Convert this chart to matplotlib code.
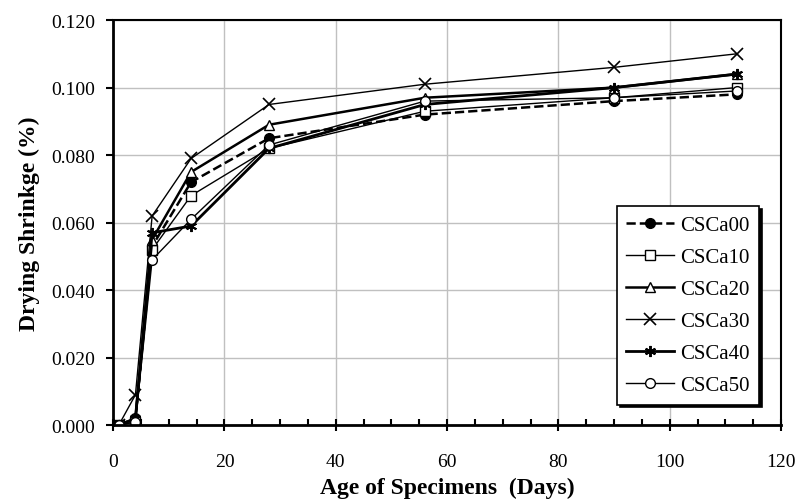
import numpy as np
import matplotlib
matplotlib.use("Agg")
import matplotlib.pyplot as plt
from matplotlib.ticker import MultipleLocator, FormatStrFormatter

plt.rcParams['font.family'] = ['Liberation Serif', 'DejaVu Serif']

# ---------------------------------------------------------------------------
# Data
# ---------------------------------------------------------------------------
days = [1, 4, 7, 14, 28, 56, 90, 112]

csca00 = [0.000, 0.002, 0.053, 0.072, 0.085, 0.092, 0.096, 0.098]
csca10 = [0.000, 0.001, 0.052, 0.068, 0.082, 0.093, 0.097, 0.100]
csca20 = [0.000, 0.002, 0.055, 0.075, 0.089, 0.097, 0.100, 0.104]
csca30 = [0.000, 0.009, 0.062, 0.079, 0.095, 0.101, 0.106, 0.110]
csca40 = [0.000, 0.002, 0.057, 0.059, 0.082, 0.095, 0.100, 0.104]
csca50 = [0.000, 0.001, 0.049, 0.061, 0.083, 0.096, 0.097, 0.099]

labels = ["CSCa00", "CSCa10", "CSCa20", "CSCa30", "CSCa40", "CSCa50"]

# ---------------------------------------------------------------------------
# Plot
# ---------------------------------------------------------------------------
fig = plt.figure(figsize=(7.97, 5.02), dpi=100)
ax = fig.add_axes([0.142, 0.151, 0.838, 0.807])

ax.plot(days, csca00, '--', color='black', lw=1.8, marker='o', ms=7,
        mfc='black', label=labels[0])
ax.plot(days, csca10, '-', color='black', lw=1.0, marker='s', ms=7,
        mfc='white', label=labels[1])
ax.plot(days, csca20, '-', color='black', lw=1.8, marker='^', ms=7,
        mfc='white', label=labels[2])
ax.plot(days, csca30, '-', color='black', lw=1.0, marker='x', ms=9,
        mew=1.2, label=labels[3])
ax.plot(days, csca40, '-', color='black', lw=2.0, marker=(6, 2, 0), ms=8,
        mew=1.4, label=labels[4])
ax.plot(days, csca50, '-', color='black', lw=1.0, marker='o', ms=7,
        mfc='white', label=labels[5])

ax.set_xlim(0, 120)
ax.set_ylim(0, 0.120)
ax.xaxis.set_major_locator(MultipleLocator(20))
ax.xaxis.set_minor_locator(MultipleLocator(5))
ax.yaxis.set_major_locator(MultipleLocator(0.02))
ax.yaxis.set_major_formatter(FormatStrFormatter('%.3f'))

ax.grid(True, which='major', color='#c0c0c0', lw=1.0)
ax.set_axisbelow(True)

for side in ['left', 'bottom']:
    ax.spines[side].set_linewidth(2.0)
for side in ['top', 'right']:
    ax.spines[side].set_linewidth(1.5)

ax.tick_params(axis='x', which='major', direction='inout', length=8, width=1.5,
               labelsize=14, pad=16)
ax.tick_params(axis='x', which='minor', direction='in', length=4, width=1.5)
ax.tick_params(axis='y', which='major', direction='out', length=5, width=1.5,
               labelsize=14, pad=8)

ax.set_xlabel("Age of Specimens  (Days)", fontsize=17, fontweight='bold',
              labelpad=5)
ax.set_ylabel("Drying Shrinkge (%)", fontsize=17, fontweight='bold',
              labelpad=8)

leg = ax.legend(loc='lower right', bbox_to_anchor=(0.983, 0.025), fontsize=15,
                fancybox=False, shadow={'color': 'black', 'alpha': 1},
                framealpha=1, edgecolor='black',
                handlelength=2.3, handletextpad=0.3, labelspacing=0.6,
                borderpad=0.45)
leg.get_frame().set_linewidth(1.2)

fig.savefig("out.png", dpi=100)
